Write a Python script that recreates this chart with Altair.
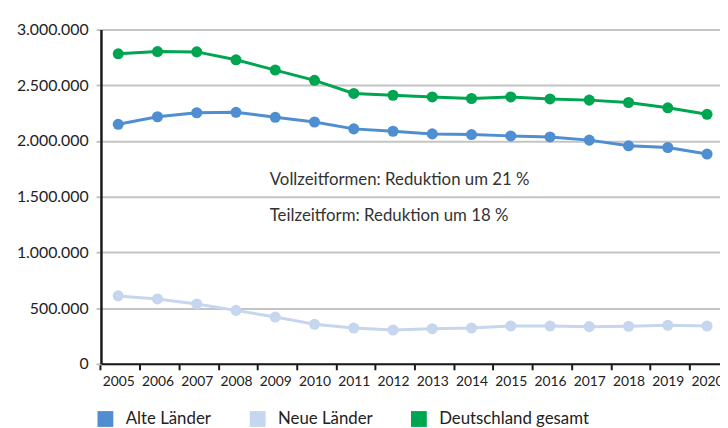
import altair as alt
import pandas as pd

years = list(range(2005, 2021))
alte = [2150000, 2218000, 2254000, 2258000, 2213000, 2171000, 2109000, 2088000,
        2064000, 2058000, 2046000, 2037000, 2008000, 1957000, 1942000, 1883000]
neue = [610000, 583000, 538000, 480000, 420000, 355000, 322000, 304000,
        316000, 322000, 340000, 340000, 334000, 337000, 346000, 340000]
gesamt = [2783000, 2803000, 2800000, 2729000, 2637000, 2545000, 2427000, 2411000,
          2396000, 2382000, 2396000, 2378000, 2367000, 2346000, 2298000, 2240000]

series_names = ["Alte Länder", "Neue Länder", "Deutschland gesamt"]
series_colors = ["#4f8fd1", "#c6d6ee", "#00a551"]
y_ticks = [0, 500000, 1000000, 1500000, 2000000, 2500000, 3000000]

note_texts = ["Vollzeitformen: Reduktion um 21 %", "Teilzeitform: Reduktion um 18 %"]
note_x = [2008.86, 2008.86]
note_y = [1654000, 1330000]

rows = []
for name, vals in zip(series_names, [alte, neue, gesamt]):
    for yr, v in zip(years, vals):
        rows.append({"Jahr": yr, "Wert": v, "Reihe": name})
df = pd.DataFrame(rows)
notes = pd.DataFrame({"x": note_x, "y": note_y, "t": note_texts})

FONT = "Lato"
x_scale = alt.Scale(domain=[2004.56, 2020.33], nice=False, zero=False)
y_scale = alt.Scale(domain=[0, 3000000], nice=False)

x_axis = alt.Axis(values=years, format="d", title=None, tickOffset=-18, labelOffset=18,
                  labelFlush=False, labelOverlap=False, grid=False,
                  domainColor="#1a1a1a", domainWidth=2, tickColor="#1a1a1a", tickWidth=2,
                  tickSize=6, labelFontSize=14, labelPadding=5, labelColor="#222222",
                  labelFont=FONT)
y_axis = alt.Axis(values=y_ticks, title=None,
                  labelExpr="replace(format(datum.value, ','), regexp(',', 'g'), '.')",
                  gridColor="#c4c4c4", gridWidth=2, domainColor="#1a1a1a", domainWidth=2.5,
                  tickColor="#c4c4c4", tickSize=5, tickWidth=2, labelFontSize=16,
                  labelPadding=8, labelColor="#222222", labelFont=FONT)

color_scale = alt.Scale(domain=series_names, range=series_colors)
legend = alt.Legend(title=None, orient="none", direction="horizontal",
                    legendX=-4, legendY=385, symbolType="square",
                    symbolSize=256, symbolStrokeWidth=0, symbolOpacity=1,
                    labelFontSize=17, labelFont=FONT, labelColor="#222222",
                    columnPadding=38, labelOffset=12, padding=0)

lines = alt.Chart(df).mark_line(strokeWidth=3).encode(
    x=alt.X("Jahr:Q", scale=x_scale, axis=x_axis),
    y=alt.Y("Wert:Q", scale=y_scale, axis=y_axis),
    color=alt.Color("Reihe:N", scale=color_scale, legend=legend),
)

points = alt.Chart(df).mark_circle(size=125, opacity=1).encode(
    x=alt.X("Jahr:Q", scale=x_scale),
    y=alt.Y("Wert:Q", scale=y_scale),
    color=alt.Color("Reihe:N", scale=color_scale, legend=legend),
)

texts = alt.Chart(notes).mark_text(align="left", baseline="middle", font=FONT,
                                   fontSize=17, color="#333333").encode(
    x=alt.X("x:Q", scale=x_scale),
    y=alt.Y("y:Q", scale=y_scale),
    text="t:N",
)

chart = alt.layer(lines, points, texts).properties(
    width=626, height=338,
    autosize=alt.AutoSizeParams(type="none"),
    padding={"left": 94, "top": 19.5, "right": 0, "bottom": 62.5},
    background="white",
).configure_view(stroke=None)

chart.save("out.html", embed_options={"renderer": "svg", "actions": False})
